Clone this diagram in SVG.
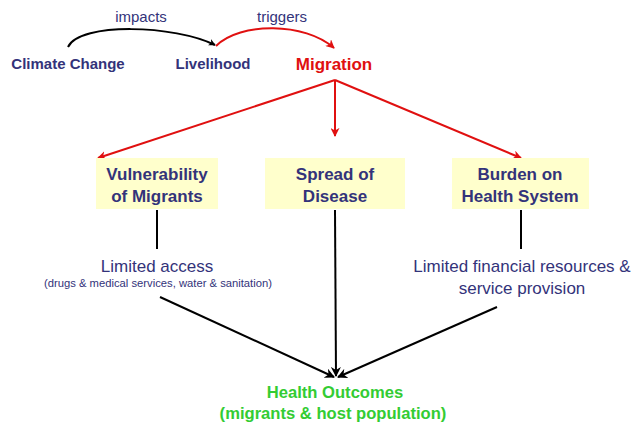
<svg xmlns="http://www.w3.org/2000/svg" width="631" height="425" viewBox="0 0 631 425">
<defs>
<marker id="ab" viewBox="0 0 10 10" refX="9" refY="5" markerWidth="7" markerHeight="7" orient="auto-start-reverse" markerUnits="userSpaceOnUse"><path d="M0,0 L10,5 L0,10 L3,5 z" fill="#000"/></marker>
<marker id="ar" viewBox="0 0 10 10" refX="9" refY="5" markerWidth="9" markerHeight="9" orient="auto" markerUnits="userSpaceOnUse"><path d="M0,0 L10,5 L0,10 L3,5 z" fill="#e01010"/></marker>
<marker id="ak" viewBox="0 0 10 10" refX="9" refY="5" markerWidth="10" markerHeight="10" orient="auto" markerUnits="userSpaceOnUse"><path d="M0,0 L10,5 L0,10 L3,5 z" fill="#000"/></marker>
</defs>
<style>
text{font-family:"Liberation Sans",Arial,sans-serif;text-anchor:middle;fill:#33337a}
.b{font-weight:bold}
.box{fill:#ffffcc}
.red{stroke:#e01010;stroke-width:2;fill:none}
.blk{stroke:#000;stroke-width:2;fill:none}
</style>
<rect width="631" height="425" fill="#fff"/>
<g id="connectors">
<path class="blk" d="M68,47 C80,22 175,25 215,45" marker-end="url(#ab)"/>
<path class="red" d="M216,46 C240,22 305,22 334,48" marker-end="url(#ar)"/>
<line class="red" x1="335" y1="80" x2="98" y2="158" marker-end="url(#ar)"/>
<line class="red" x1="335" y1="80" x2="335" y2="136" marker-end="url(#ar)"/>
<line class="red" x1="335" y1="80" x2="521" y2="158" marker-end="url(#ar)"/>
<line class="blk" x1="157" y1="210" x2="157" y2="249"/>
<line class="blk" x1="521" y1="210" x2="521" y2="249"/>
<line class="blk" x1="335" y1="210" x2="336" y2="376" marker-end="url(#ak)"/>
<line class="blk" x1="160" y1="297" x2="334" y2="377" marker-end="url(#ak)"/>
<line class="blk" x1="497" y1="307" x2="338" y2="377" marker-end="url(#ak)"/>
</g>
<g id="climate"><text class="b" x="68" y="69" font-size="15">Climate Change</text></g>
<g id="impacts"><text x="141" y="22" font-size="15">impacts</text></g>
<g id="livelihood"><text class="b" x="213" y="69" font-size="15">Livelihood</text></g>
<g id="triggers"><text x="282" y="22" font-size="15">triggers</text></g>
<g id="migration"><text class="b" x="334" y="70" font-size="17" style="fill:#e01010">Migration</text></g>
<g id="vulnerability"><rect class="box" x="96" y="158" width="122" height="51"/><text class="b" x="157" y="180" font-size="17">Vulnerability</text><text class="b" x="157" y="202" font-size="17">of Migrants</text></g>
<g id="spread"><rect class="box" x="265" y="158" width="140" height="51"/><text class="b" x="335" y="180" font-size="17">Spread of</text><text class="b" x="335" y="202" font-size="17">Disease</text></g>
<g id="burden"><rect class="box" x="452" y="158" width="137" height="51"/><text class="b" x="520" y="180" font-size="17">Burden on</text><text class="b" x="520" y="202" font-size="17">Health System</text></g>
<g id="access"><text x="157" y="272" font-size="17">Limited access</text><text x="158" y="287" font-size="11" textLength="228" lengthAdjust="spacingAndGlyphs">(drugs &amp; medical services, water &amp; sanitation)</text></g>
<g id="financial"><text x="522" y="272" font-size="17">Limited financial resources &amp;</text><text x="522" y="294" font-size="17">service provision</text></g>
<g id="outcomes"><text class="b" x="335" y="398" font-size="16.6" style="fill:#33cc33">Health Outcomes</text><text class="b" x="333" y="419" font-size="16.6" style="fill:#33cc33">(migrants &amp; host population)</text></g>
</svg>
